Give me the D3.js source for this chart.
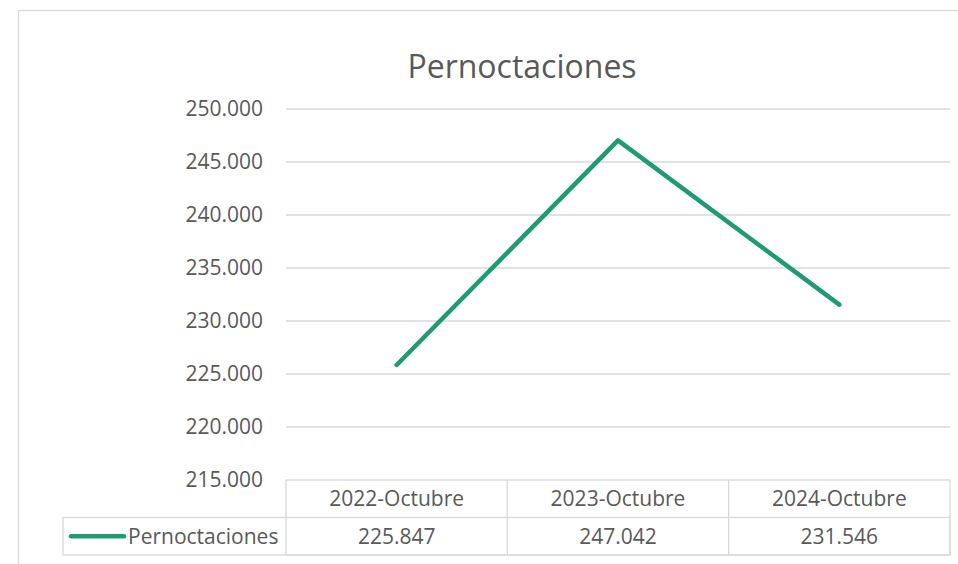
<!DOCTYPE html>
<html>
<head>
<meta charset="utf-8">
<script src="https://cdn.jsdelivr.net/npm/d3@7"></script>
<style>
  body { margin: 0; background: #fff; }
  text { font-family: "Open Sans", sans-serif; fill: #595959; }
</style>
</head>
<body>
<div id="container"></div>
<script>
var categories = ["2022-Octubre", "2023-Octubre", "2024-Octubre"];
var values = [225847, 247042, 231546];
var seriesName = "Pernoctaciones";
var yTicks = [215000, 220000, 225000, 230000, 235000, 240000, 245000, 250000];

var width = 958;
var height = 564;
var plotLeft = 286, plotRight = 950, plotTop = 109, plotBottom = 480;
var rowH = 37.5;
var green = "#1f9b73";
var grid = "#d9d9d9";
var labelSize = 21;

var es = d3.formatLocale({decimal: ",", thousands: ".", grouping: [3], currency: ["", "€"]});
var fmt = es.format(",.0f");

var svg = d3.select("#container").append("svg")
    .attr("width", width)
    .attr("height", height);

// chart frame
svg.append("rect")
   .attr("x", 18.5).attr("y", 10.5)
   .attr("width", 1000).attr("height", 600)
   .attr("fill", "#fff")
   .attr("stroke", grid)
   .attr("stroke-width", 1.3);

svg.append("text")
   .attr("x", 522).attr("y", 78)
   .attr("text-anchor", "middle")
   .attr("font-size", 32)
   .text(seriesName);

var x = d3.scaleBand()
    .domain(categories)
    .range([plotLeft, plotRight])
    .padding(0);
var y = d3.scaleLinear()
    .domain([d3.min(yTicks), d3.max(yTicks)])
    .range([plotBottom, plotTop]);

// gridlines
svg.append("g").selectAll("line")
   .data(yTicks.filter(d => d > d3.min(yTicks)))
   .enter().append("line")
   .attr("x1", plotLeft).attr("x2", plotRight)
   .attr("y1", d => y(d)).attr("y2", d => y(d))
   .attr("stroke", grid)
   .attr("stroke-width", 1.3);

// y labels
svg.append("g").selectAll("text")
   .data(yTicks)
   .enter().append("text")
   .attr("x", 263)
   .attr("y", d => y(d))
   .attr("dy", "0.35em")
   .attr("text-anchor", "end")
   .attr("font-size", labelSize)
   .text(d => fmt(d));

// line
var line = d3.line()
    .x((d, i) => x(categories[i]) + x.bandwidth() / 2)
    .y(d => y(d));

svg.append("path")
   .datum(values)
   .attr("d", line)
   .attr("fill", "none")
   .attr("stroke", green)
   .attr("stroke-width", 4.5)
   .attr("stroke-linecap", "round")
   .attr("stroke-linejoin", "round");

// data table
var t = svg.append("g")
    .attr("stroke", grid)
    .attr("stroke-width", 1.3)
    .attr("fill", "none");

t.append("rect")
 .attr("x", plotLeft).attr("y", plotBottom)
 .attr("width", plotRight - plotLeft).attr("height", rowH * 2);
t.append("rect")
 .attr("x", 63).attr("y", plotBottom + rowH)
 .attr("width", plotRight - 63).attr("height", rowH);
t.selectAll(".col")
 .data(categories.slice(1))
 .enter().append("line")
 .attr("x1", d => x(d)).attr("x2", d => x(d))
 .attr("y1", plotBottom).attr("y2", plotBottom + rowH * 2);

svg.append("g").selectAll("text")
   .data(categories)
   .enter().append("text")
   .attr("x", d => x(d) + x.bandwidth() / 2)
   .attr("y", plotBottom + rowH / 2)
   .attr("dy", "0.35em")
   .attr("text-anchor", "middle")
   .attr("font-size", labelSize)
   .text(d => d);

svg.append("g").selectAll("text")
   .data(values)
   .enter().append("text")
   .attr("x", (d, i) => x(categories[i]) + x.bandwidth() / 2)
   .attr("y", plotBottom + rowH * 1.5)
   .attr("dy", "0.35em")
   .attr("text-anchor", "middle")
   .attr("font-size", labelSize)
   .text(d => fmt(d));

// legend key
svg.append("line")
   .attr("x1", 71).attr("x2", 124)
   .attr("y1", plotBottom + rowH * 1.5).attr("y2", plotBottom + rowH * 1.5)
   .attr("stroke", green)
   .attr("stroke-width", 4.5)
   .attr("stroke-linecap", "round");
svg.append("text")
   .attr("x", 128)
   .attr("y", plotBottom + rowH * 1.5)
   .attr("dy", "0.35em")
   .attr("font-size", labelSize)
   .text(seriesName);
</script>
</body>
</html>
